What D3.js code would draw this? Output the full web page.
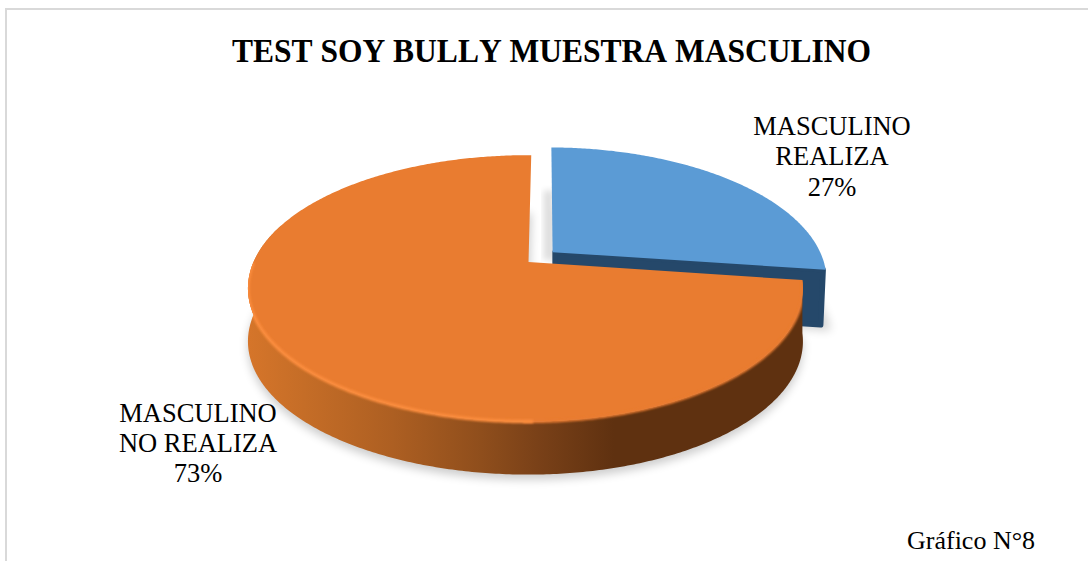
<!DOCTYPE html>
<html lang="es">
<head>
<meta charset="utf-8">
<title>Test Soy Bully</title>
<script src="https://cdn.jsdelivr.net/npm/d3@7/dist/d3.min.js"></script>
<style>
  html, body { margin: 0; padding: 0; background: #fff; overflow: hidden; }
  svg { display: block; }
  text { font-family: "Liberation Serif", "Times New Roman", serif; fill: #000; }
</style>
</head>
<body>
<div id="chart"></div>
<script>
// Chart content
const categories = ["MASCULINO REALIZA", "MASCULINO NO REALIZA"];
const values = [27, 73];
const labelLines = [["MASCULINO", "REALIZA", "27%"], ["MASCULINO", "NO REALIZA", "73%"]];
const titleText = "TEST SOY BULLY MUESTRA MASCULINO";
const captionText = "Gráfico N°8";

const width = 1088, height = 561;

// Palette for the lit top faces and the unlit blue wall
const topColors = ["#5b9bd5", "#e97c30"];
const blueWall = "#25486a";

// Perspective disc: disc coordinates (u, v) in [-1, 1] go through the scales,
// then get divided by the depth factor so the far rim shrinks toward the top.
const perspective = 0.198;
const xDisc = d3.scaleLinear().domain([-1, 0, 1]).range([528.5 - 275, 528.5, 528.5 + 269]);
const yDisc = d3.scaleLinear().domain([-1, 1]).range([262 + 128, 262 - 128]);
const wallDepth = 53;
const blueWallDepth = 58;
const explode = 0.12;
const blueRadius = 1.01;
const startAngle = 0.7 * Math.PI / 180;

function project(u, v, drop = 0) {
  const s = 1 / (1 + perspective * v);
  return [
    xDisc(0) + (xDisc(u) - xDisc(0)) * s,
    yDisc(0) + (yDisc(v) - yDisc(0)) * s + drop
  ];
}

const arcs = d3.pie().sort(null).startAngle(startAngle).endAngle(startAngle + 2 * Math.PI)(values);

// Rim samples for a slice, with an optional shift in disc units
function rim(a, off, radius = 1) {
  const n = Math.max(8, Math.round((a.endAngle - a.startAngle) / 0.01));
  return d3.range(n + 1).map(i => {
    const t = a.startAngle + (a.endAngle - a.startAngle) * i / n;
    return [off[0] + radius * Math.sin(t), off[1] + radius * Math.cos(t)];
  });
}
function offsetOf(a, k) {
  const mid = (a.startAngle + a.endAngle) / 2;
  return [k * Math.sin(mid), k * Math.cos(mid)];
}
const line = d3.line();
const linearClosed = d3.line().curve(d3.curveLinearClosed);

const svg = d3.select("#chart").append("svg").attr("width", width).attr("height", height);
const defs = svg.append("defs");

[["blur3", 3], ["blur5", 5], ["blur1", 1.3]].forEach(([id, sd]) => {
  defs.append("filter").attr("id", id)
    .attr("x", "-20%").attr("y", "-20%").attr("width", "140%").attr("height", "140%")
    .append("feGaussianBlur").attr("stdDeviation", sd);
});

// Wall shading runs from the lit left side to the dark right side
const wallStops = [
  [0, "#d5752a"], [0.1, "#c56d27"], [0.26, "#ad5f22"], [0.42, "#8f4e1c"],
  [0.52, "#7a4118"], [0.66, "#5f3110"], [1, "#5f3110"]
];
const grad = defs.append("linearGradient").attr("id", "wallGrad")
  .attr("gradientUnits", "userSpaceOnUse")
  .attr("x1", xDisc(-1) - 5).attr("x2", xDisc(1) + 5).attr("y1", 0).attr("y2", 0);
wallStops.forEach(([o, c]) => grad.append("stop").attr("offset", o).attr("stop-color", c));

// Chart frame: only its top and left sides fall inside the page
svg.append("rect").attr("x", 6).attr("y", 9).attr("width", width + 20).attr("height", height + 20)
  .attr("fill", "#fff").attr("stroke", "#d9d9d9").attr("stroke-width", 2);

const [blue, orange] = arcs;
const blueOff = offsetOf(blue, explode);
const orangeOff = [0, 0];

// Outline of a slice's top face in page coordinates
function facePoints(a, off, radius = 1, drop = 0) {
  return [project(off[0], off[1], drop)].concat(rim(a, off, radius).map(p => project(p[0], p[1], drop)));
}
// Outer wall: the near part of the rim joined to its dropped copy
function wallPoints(a, off, radius, depth, nearLimit) {
  const front = rim(a, off, radius).filter(p => p[1] - off[1] < nearLimit);
  const top = front.map(p => project(p[0], p[1]));
  const low = front.map(p => project(p[0], p[1], depth));
  return top.concat(low.reverse());
}

// Soft ground shadows
const shadow = svg.append("g");
shadow.append("path").attr("d", linearClosed(facePoints(orange, orangeOff, 1, wallDepth + 5)))
  .attr("fill", "#000").attr("opacity", 0.2).attr("filter", "url(#blur5)");
shadow.append("path").attr("d", linearClosed(facePoints(blue, blueOff, blueRadius, blueWallDepth + 3).map(p => [p[0] + 5, p[1]])))
  .attr("fill", "#000").attr("opacity", 0.17).attr("filter", "url(#blur5)");
// Shadow cast into the gap between the two slices
const gapTop = project(blueOff[0], blueOff[1] + 0.55);
const gapLow = project(blueOff[0], blueOff[1]);
shadow.append("rect")
  .attr("x", gapLow[0] - 9).attr("y", gapTop[1]).attr("width", 10).attr("height", gapLow[1] - gapTop[1] + 8)
  .attr("fill", "#000").attr("opacity", 0.13).attr("filter", "url(#blur3)");

// Blue slice: wall first, then its top face
const blueGroup = svg.append("g");
const blueFace = facePoints(blue, blueOff, blueRadius);
const blueApex = blueFace[0], blueEnd = blueFace[blueFace.length - 1];
blueGroup.append("path").attr("d", linearClosed([
    [blueApex[0] + 2.5, blueApex[1]], [blueEnd[0] - 2.5, blueEnd[1]],
    [blueEnd[0] - 5, blueEnd[1] + blueWallDepth - 3], [blueApex[0] + 2.5, blueApex[1] + blueWallDepth - 3]]))
  .attr("fill", blueWall).attr("stroke", blueWall).attr("stroke-width", 5.5).attr("stroke-linejoin", "round");
blueGroup.append("path").attr("d", linearClosed(blueFace)).attr("fill", topColors[0]);

// Orange slice: wall, then its top face with a bevelled rim
const orangeGroup = svg.append("g");
const orangeFace = facePoints(orange, orangeOff);
const orangeWall = wallPoints(orange, orangeOff, 1, wallDepth, 0.3);
orangeGroup.append("path").attr("d", linearClosed(orangeWall)).attr("fill", "url(#wallGrad)");
orangeGroup.append("path").attr("d", linearClosed(orangeFace)).attr("fill", topColors[1]);

// Bevel along the near rim, kept inside the solid so it never bleeds onto the page
const bevelClip = defs.append("clipPath").attr("id", "solidClip");
bevelClip.append("path").attr("d", linearClosed(orangeFace));
bevelClip.append("path").attr("d", linearClosed(orangeWall));

const frontRim = rim(orange, orangeOff).filter(p => p[1] < 0);
const leftRim = frontRim.filter(p => p[0] < 0.02).map(p => project(p[0], p[1]));
const rightRim = frontRim.filter(p => p[0] >= -0.02).map(p => project(p[0], p[1]));
const bevel = orangeGroup.append("g").attr("clip-path", "url(#solidClip)");
bevel.append("path").attr("d", line(rightRim))
  .attr("fill", "none").attr("stroke", "#e97c30").attr("stroke-width", 3).attr("filter", "url(#blur1)");
bevel.append("path").attr("d", line(leftRim))
  .attr("fill", "none").attr("stroke", "#fb8c3c").attr("stroke-width", 3.5).attr("filter", "url(#blur1)");

// Titles and labels
svg.append("text").attr("x", 551.5).attr("y", 62).attr("text-anchor", "middle")
  .attr("font-size", 34).attr("font-weight", "bold").attr("textLength", 639)
  .attr("lengthAdjust", "spacingAndGlyphs").style("font-kerning", "none").text(titleText);

const labelPos = [[832, 135], [198, 421.5]];
labelLines.forEach((lines, i) => {
  const t = svg.append("text").attr("text-anchor", "middle").attr("font-size", 26.5);
  lines.forEach((s, j) => {
    t.append("tspan").attr("x", labelPos[i][0]).attr("y", labelPos[i][1] + j * 30.3).text(s);
  });
});

svg.append("text").attr("x", 907).attr("y", 549).attr("font-size", 26).text(captionText);
</script>
</body>
</html>
